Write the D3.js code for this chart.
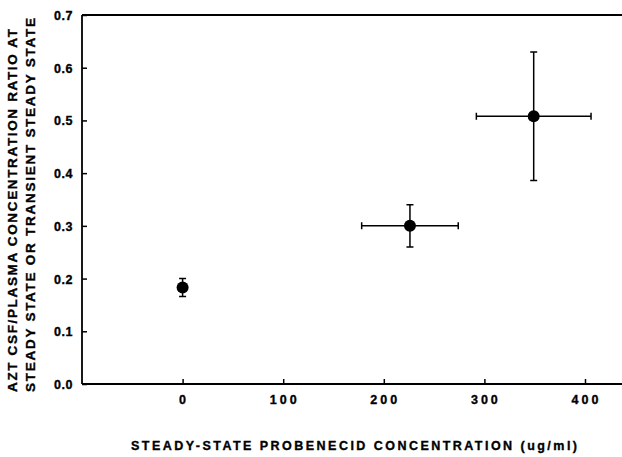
<!DOCTYPE html>
<html>
<head>
<meta charset="utf-8">
<script src="https://cdn.jsdelivr.net/npm/d3@7"></script>
<style>
  html, body { margin: 0; padding: 0; background: #fff; }
  svg { display: block; }
  text { font-family: "Liberation Sans", Arial, sans-serif; font-weight: bold; fill: #000;
         stroke: #000; stroke-width: 0.35; }
</style>
</head>
<body>
<div id="chart"></div>
<script>
;(function () {

  'use strict';

  // probenecid concentration (ug/ml) and its spread
  var concentration = [0, 226, 349];
  var concentrationErr = [0, 48, 57];
  // AZT CSF/plasma ratio and its spread
  var ratio = [0.183, 0.300, 0.508];
  var ratioErr = [0.017, 0.040, 0.122];

  var xTicks = [0, 100, 200, 300, 400];
  var yTicks = [0.0, 0.1, 0.2, 0.3, 0.4, 0.5, 0.6, 0.7];

  var xTitle = 'STEADY-STATE  PROBENECID  CONCENTRATION  (ug/ml)';
  var yTitle = ['AZT CSF/PLASMA CONCENTRATION RATIO AT',
                'STEADY STATE OR TRANSIENT STEADY STATE'];

  var width = 622, height = 457;
  var left = 82, top = 15, bottom = 384;

  var x = d3.scaleLinear().domain([-100, 450]).range([left, left + 550 * 1.006]);
  var y = d3.scaleLinear().domain([0, 0.7]).range([bottom, top]);

  var svg = d3.select('#chart').append('svg')
              .attr('width', width)
              .attr('height', height);

  var points = concentration.map(function (c, i) {
    return { x: c, xe: concentrationErr[i], y: ratio[i], ye: ratioErr[i] };
  });

  // frame: top line, left axis, bottom axis (right side runs off the page)
  svg.append('line')
    .attr('x1', left).attr('x2', width)
    .attr('y1', top).attr('y2', top)
    .attr('stroke', '#000').attr('stroke-width', 1.8);

  var yAxis = svg.append('g')
    .attr('transform', 'translate(' + left + ',0)')
    .call(d3.axisRight(y).tickValues(yTicks).tickSize(5).tickFormat(''));

  var xAxis = svg.append('g')
    .attr('transform', 'translate(0,' + bottom + ')')
    .call(d3.axisTop(x).tickValues(xTicks).tickSize(5).tickFormat(''));

  [xAxis, yAxis].forEach(function (g) {
    g.select('.domain').attr('stroke', '#000').attr('stroke-width', 1.8);
    g.selectAll('.tick line').attr('stroke', '#000').attr('stroke-width', 1.5);
  });
  xAxis.select('.domain').attr('d', 'M' + left + ',0H' + width);
  yAxis.select('.domain').attr('d', 'M0,' + top + 'V' + bottom);

  // tick labels
  svg.append('g').selectAll('text')
    .data(yTicks)
    .enter().append('text')
      .attr('x', 73)
      .attr('y', function (d) { return y(d) + 5; })
      .attr('text-anchor', 'end')
      .attr('font-size', 12.5)
      .attr('letter-spacing', 0.5)
      .text(d3.format('.1f'));

  svg.append('g').selectAll('text')
    .data(xTicks)
    .enter().append('text')
      .attr('x', function (d) { return x(d) + 1.5; })
      .attr('y', 404)
      .attr('text-anchor', 'middle')
      .attr('font-size', 12.5)
      .attr('letter-spacing', 3)
      .text(function (d) { return d; });

  // axis titles
  svg.append('text')
    .attr('x', 131)
    .attr('y', 450)
    .attr('font-size', 12.5)
    .attr('textLength', 446)
    .attr('lengthAdjust', 'spacing')
    .text(xTitle);

  var yPos = [{ x: 17, y0: 392, len: 363 }, { x: 35, y0: 392, len: 374 }];
  svg.append('g').selectAll('text')
    .data(yTitle)
    .enter().append('text')
      .attr('transform', function (d, i) {
        return 'translate(' + yPos[i].x + ',' + yPos[i].y0 + ') rotate(-90)';
      })
      .attr('font-size', 13.5)
      .attr('textLength', function (d, i) { return yPos[i].len; })
      .attr('lengthAdjust', 'spacing')
      .text(function (d) { return d; });

  // error bars
  var cap = 3.5;
  var bars = svg.append('g')
    .attr('stroke', '#000')
    .attr('stroke-width', 1.5)
    .attr('fill', 'none');

  points.forEach(function (p) {
    var cx = x(p.x), cy = y(p.y);
    var yTop = y(p.y + p.ye), yBot = y(p.y - p.ye);
    bars.append('path')
      .attr('d', 'M' + cx + ',' + yTop + 'V' + yBot +
                 'M' + (cx - cap) + ',' + yTop + 'H' + (cx + cap) +
                 'M' + (cx - cap) + ',' + yBot + 'H' + (cx + cap));
    if (p.xe > 0) {
      var xl = x(p.x - p.xe), xr = x(p.x + p.xe);
      bars.append('path')
        .attr('d', 'M' + xl + ',' + cy + 'H' + xr +
                   'M' + xl + ',' + (cy - cap) + 'V' + (cy + cap) +
                   'M' + xr + ',' + (cy - cap) + 'V' + (cy + cap));
    }
  });

  svg.append('g').selectAll('circle')
    .data(points)
    .enter().append('circle')
      .attr('cx', function (d) { return x(d.x); })
      .attr('cy', function (d) { return y(d.y); })
      .attr('r', 6)
      .attr('fill', '#000');

})();
</script>
</body>
</html>
